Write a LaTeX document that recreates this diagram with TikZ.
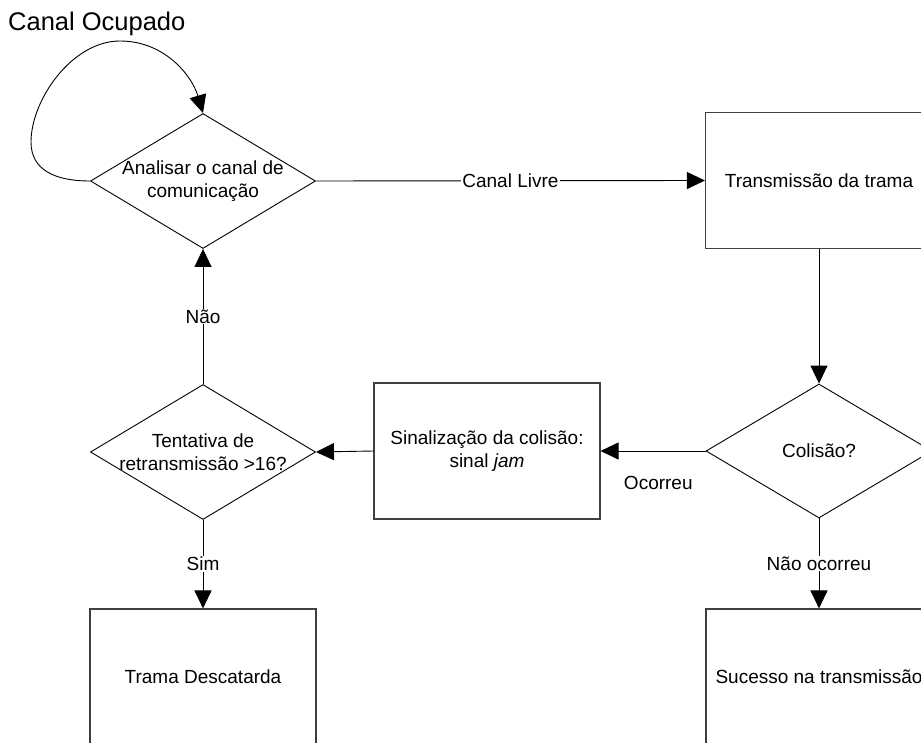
\documentclass[tikz,border=0pt]{standalone}
\usepackage{fontspec}
\setmainfont{Liberation Sans}
\usetikzlibrary{shapes.geometric,arrows.meta}
\begin{document}
\begin{tikzpicture}[x=1pt,y=-1pt,
  lbl/.style={font=\fontsize{19}{23}\selectfont, align=center, inner sep=1pt},
  dia/.style={draw, diamond, minimum width=225pt, minimum height=135pt, inner sep=0pt, line width=0.9pt},
  box/.style={draw=black!75, rectangle, minimum width=227pt, minimum height=136pt, inner sep=0pt, line width=1.1pt},
  arr/.style={line width=0.9pt, -{Triangle[length=18pt,width=17pt]}},
  cond/.style={lbl, fill=white}]
\useasboundingbox (0,0) rectangle (921,743);
\clip (0,0) rectangle (921,743);

\node[font=\fontsize{25.5}{30}\selectfont, anchor=base west, inner sep=0pt] (co) at (8,31) {Canal Ocupado};

% diamonds
\node[dia] (A) at (203,181) {};
\node[lbl] (tA) at (A.center) {Analisar o canal de\\comunicação};
\node[dia] (R) at (203,452) {};
\node[lbl] (tR) at (R.center) {Tentativa de\\retransmissão >16?};
\node[dia, minimum width=226pt, minimum height=134pt] (C) at (819,451) {};
\node[lbl] (tC) at (C.center) {Colisão?};

% boxes
\node[box, lbl] (T) at (819,180.5) {Transmissão da trama};
\node[box, lbl, minimum width=226pt] (S) at (487,451) {Sinalização da colisão:\\sinal \textit{jam}};
\node[box, lbl, minimum width=226pt] (D) at (203,677) {Trama Descatarda};
\node[box, lbl, minimum width=226pt] (U) at (819,677) {Sucesso na transmissão};

% connectors
\draw[arr] (A.east) -- node[cond] (l1) {Canal Livre} (T.west);
\draw[arr] (T.south) -- (C.north);
\draw[arr] (C.west) -- node[lbl, pos=0.45, yshift=-32pt] (l2) {Ocorreu} (S.east);
\draw[arr] (S.west) -- (R.east);
\draw[arr] (R.north) -- node[cond] (l3) {Não} (A.south);
\draw[arr] (R.south) -- node[cond] (l4) {Sim} (D.north);
\draw[arr] (C.south) -- node[cond] (l5) {Não ocorreu} (U.north);

% self loop
\coordinate (p1) at (31,142);
\coordinate (p2) at (120,41);
\draw[arr] (A.west) .. controls (55,181) and (31,170) .. (p1)
  .. controls (31,100) and (72,41) .. (p2)
  .. controls (165,41) and (192,76) .. (A.north);
\end{tikzpicture}
\end{document}
